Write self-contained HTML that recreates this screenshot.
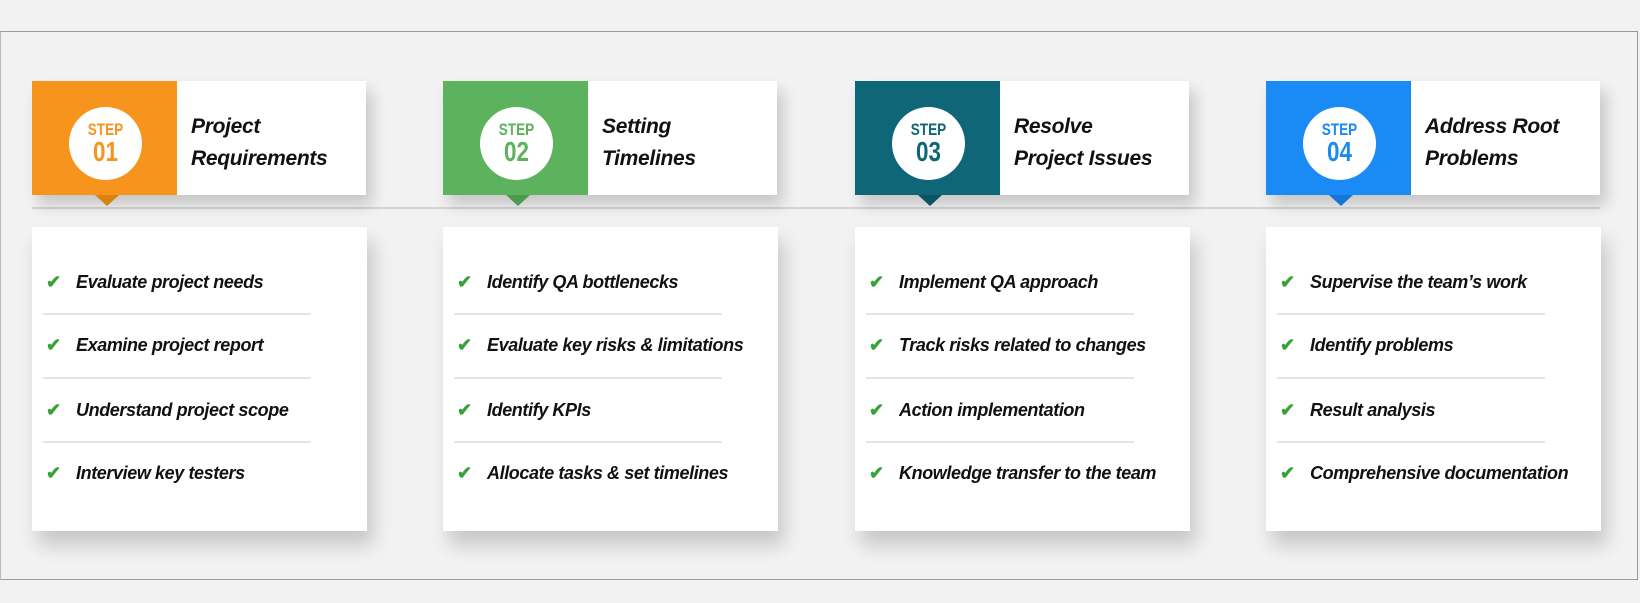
<!DOCTYPE html><html><head><style>
body{margin:0;width:1640px;height:603px;background:#f2f2f2;position:relative;overflow:hidden;font-family:"Liberation Sans",sans-serif}
.frame{position:absolute;left:0;top:31px;width:1636px;height:547px;border:1px solid #9a9a9a;border-left:1px solid #bbb}
.line{position:absolute;left:32px;top:207px;width:1568px;height:2px;background:#d4d4d4}
.hd{position:absolute;top:81px;height:114px;width:334px;background:#fff;box-shadow:6px 10px 14px rgba(0,0,0,.18)}
.col{position:absolute;left:0;top:0;width:145px;height:114px}
.tri{position:absolute;left:63px;top:114px;width:0;height:0;border-left:12px solid transparent;border-right:12px solid transparent;border-top:11px solid}
.circ{position:absolute;left:37px;top:26px;width:73px;height:73px;border-radius:50%;background:#fff;text-align:center;font-weight:bold}
.circ .s{font-size:17px;margin-top:14px;line-height:17px;transform:scaleX(.8)}
.circ .n{font-size:28px;line-height:28px;transform:scaleX(.8)}
.t{position:absolute;left:159px;top:30px;font-size:21px;font-weight:bold;font-style:italic;line-height:32px;color:#111;letter-spacing:-.3px}
.bd{position:absolute;top:227px;height:304px;width:335px;background:#fff;box-shadow:6px 14px 18px rgba(0,0,0,.18)}
.it{position:absolute;left:44px;font-size:18px;font-weight:bold;font-style:italic;color:#111;letter-spacing:-.4px;white-space:nowrap}
.ck{position:absolute;left:-30px;top:0;color:#3aa03a;font-style:normal;font-size:18px}
.sep{position:absolute;left:11px;width:268px;height:2px;background:#e4e4e4}
</style></head><body>
<div class="frame"></div>
<div class="line"></div>

<div class="hd" style="left:32px"><div class="col" style="background:#f7941d"><div class="circ" style="color:#f7941d"><div class="s">STEP</div><div class="n">01</div></div></div><div class="tri" style="border-top-color:#d9820f"></div><div class="t">Project<br>Requirements</div></div>
<div class="hd" style="left:443px"><div class="col" style="background:#5cb25d"><div class="circ" style="color:#5cb25d"><div class="s">STEP</div><div class="n">02</div></div></div><div class="tri" style="border-top-color:#4c9a4d"></div><div class="t">Setting<br>Timelines</div></div>
<div class="hd" style="left:855px"><div class="col" style="background:#0e6677"><div class="circ" style="color:#0e6677"><div class="s">STEP</div><div class="n">03</div></div></div><div class="tri" style="border-top-color:#0a5563"></div><div class="t">Resolve<br>Project Issues</div></div>
<div class="hd" style="left:1266px"><div class="col" style="background:#1a8af5"><div class="circ" style="color:#1a8af5"><div class="s">STEP</div><div class="n">04</div></div></div><div class="tri" style="border-top-color:#1476d6"></div><div class="t">Address Root<br>Problems</div></div>

<div class="bd" style="left:32px">
<div class="it" style="top:45px"><span class="ck">✔</span>Evaluate project needs</div><div class="sep" style="top:86px"></div>
<div class="it" style="top:108px"><span class="ck">✔</span>Examine project report</div><div class="sep" style="top:150px"></div>
<div class="it" style="top:173px"><span class="ck">✔</span>Understand project scope</div><div class="sep" style="top:214px"></div>
<div class="it" style="top:236px"><span class="ck">✔</span>Interview key testers</div></div>
<div class="bd" style="left:443px">
<div class="it" style="top:45px"><span class="ck">✔</span>Identify QA bottlenecks</div><div class="sep" style="top:86px"></div>
<div class="it" style="top:108px"><span class="ck">✔</span>Evaluate key risks &amp; limitations</div><div class="sep" style="top:150px"></div>
<div class="it" style="top:173px"><span class="ck">✔</span>Identify KPIs</div><div class="sep" style="top:214px"></div>
<div class="it" style="top:236px"><span class="ck">✔</span>Allocate tasks &amp; set timelines</div></div>
<div class="bd" style="left:855px">
<div class="it" style="top:45px"><span class="ck">✔</span>Implement QA approach</div><div class="sep" style="top:86px"></div>
<div class="it" style="top:108px"><span class="ck">✔</span>Track risks related to changes</div><div class="sep" style="top:150px"></div>
<div class="it" style="top:173px"><span class="ck">✔</span>Action implementation</div><div class="sep" style="top:214px"></div>
<div class="it" style="top:236px"><span class="ck">✔</span>Knowledge transfer to the team</div></div>
<div class="bd" style="left:1266px">
<div class="it" style="top:45px"><span class="ck">✔</span>Supervise the team’s work</div><div class="sep" style="top:86px"></div>
<div class="it" style="top:108px"><span class="ck">✔</span>Identify problems</div><div class="sep" style="top:150px"></div>
<div class="it" style="top:173px"><span class="ck">✔</span>Result analysis</div><div class="sep" style="top:214px"></div>
<div class="it" style="top:236px"><span class="ck">✔</span>Comprehensive documentation</div></div>
</body></html>
